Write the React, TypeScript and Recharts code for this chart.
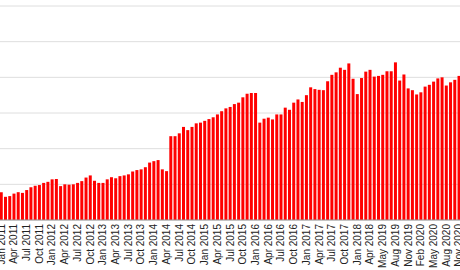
import { BarChart, Bar, XAxis, YAxis, CartesianGrid } from 'recharts';

// monthly categories (the source skips from Apr 2018 straight to early 2019)
const months = [
  'Jan 2011', 'Feb 2011', 'Mar 2011', 'Apr 2011', 'May 2011', 'Jun 2011', 'Jul 2011', 'Aug 2011', 'Sep 2011', 'Oct 2011', 'Nov 2011', 'Dec 2011',
  'Jan 2012', 'Feb 2012', 'Mar 2012', 'Apr 2012', 'May 2012', 'Jun 2012', 'Jul 2012', 'Aug 2012', 'Sep 2012', 'Oct 2012', 'Nov 2012', 'Dec 2012',
  'Jan 2013', 'Feb 2013', 'Mar 2013', 'Apr 2013', 'May 2013', 'Jun 2013', 'Jul 2013', 'Aug 2013', 'Sep 2013', 'Oct 2013', 'Nov 2013', 'Dec 2013',
  'Jan 2014', 'Feb 2014', 'Mar 2014', 'Apr 2014', 'May 2014', 'Jun 2014', 'Jul 2014', 'Aug 2014', 'Sep 2014', 'Oct 2014', 'Nov 2014', 'Dec 2014',
  'Jan 2015', 'Feb 2015', 'Mar 2015', 'Apr 2015', 'May 2015', 'Jun 2015', 'Jul 2015', 'Aug 2015', 'Sep 2015', 'Oct 2015', 'Nov 2015', 'Dec 2015',
  'Jan 2016', 'Feb 2016', 'Mar 2016', 'Apr 2016', 'May 2016', 'Jun 2016', 'Jul 2016', 'Aug 2016', 'Sep 2016', 'Oct 2016', 'Nov 2016', 'Dec 2016',
  'Jan 2017', 'Feb 2017', 'Mar 2017', 'Apr 2017', 'May 2017', 'Jun 2017', 'Jul 2017', 'Aug 2017', 'Sep 2017', 'Oct 2017', 'Nov 2017', 'Dec 2017',
  'Jan 2018', 'Feb 2018', 'Mar 2018', 'Apr 2018',
  'Mar 2019', 'Apr 2019', 'May 2019', 'Jun 2019', 'Jul 2019', 'Aug 2019', 'Sep 2019', 'Oct 2019', 'Nov 2019', 'Dec 2019',
  'Jan 2020', 'Feb 2020', 'Mar 2020', 'Apr 2020', 'May 2020', 'Jun 2020', 'Jul 2020', 'Aug 2020', 'Sep 2020', 'Oct 2020', 'Nov 2020',
];

const values = [
  78, 65, 67, 74, 78, 76, 84, 92, 96, 98, 104, 107,
  114, 115, 95, 100, 99, 100, 104, 109, 119, 125, 110, 104,
  104, 114, 120, 117, 123, 125, 128, 136, 140, 142, 148, 161,
  165, 168, 142, 137, 235, 235, 243, 261, 252, 261, 271, 273,
  278, 283, 288, 296, 305, 313, 317, 325, 329, 344, 354, 356,
  356, 273, 284, 287, 282, 296, 296, 315, 309, 329, 338, 331,
  350, 372, 367, 365, 364, 389, 407, 414, 427, 421, 439, 396,
  353, 398, 416, 421,
  402, 404, 407, 417, 417, 442, 391, 408, 369, 364,
  352, 358, 374, 379, 388, 397, 400, 377, 386, 393, 404,
];

const yTicks = [0, 100, 200, 300, 400, 500, 600];

const data = months.map((m, i) => ({ month: m, value: values[i] }));

const MonthTick = ({ x, y, payload }: any) => (
  <text
    x={x}
    y={y}
    transform={`rotate(-90, ${x}, ${y})`}
    textAnchor="end"
    dy="0.35em"
    fontSize={10}
    fill="#222"
    fontFamily="'Liberation Sans', Arial, sans-serif"
  >
    {payload.value}
  </text>
);

export default function App() {
  return (
    <div style={{ position: 'absolute', left: 0, top: 0, width: 460, height: 270, overflow: 'hidden', background: '#fff' }}>
      <div style={{ position: 'absolute', left: -1, top: 0 }}>
        <BarChart
          width={462}
          height={270}
          data={data}
          margin={{ top: 6, right: 0, bottom: 0, left: 0 }}
          barCategoryGap="18%"
        >
          <CartesianGrid vertical={false} stroke="#dedede" />
          <YAxis hide domain={[0, 600]} ticks={yTicks} width={0} />
          <XAxis
            dataKey="month"
            interval={2}
            height={50}
            tickLine={false}
            tickSize={0}
            tickMargin={4}
            axisLine={{ stroke: '#999' }}
            tick={<MonthTick />}
          />
          <Bar dataKey="value" fill="#ff0000" isAnimationActive={false} />
        </BarChart>
      </div>
    </div>
  );
}
